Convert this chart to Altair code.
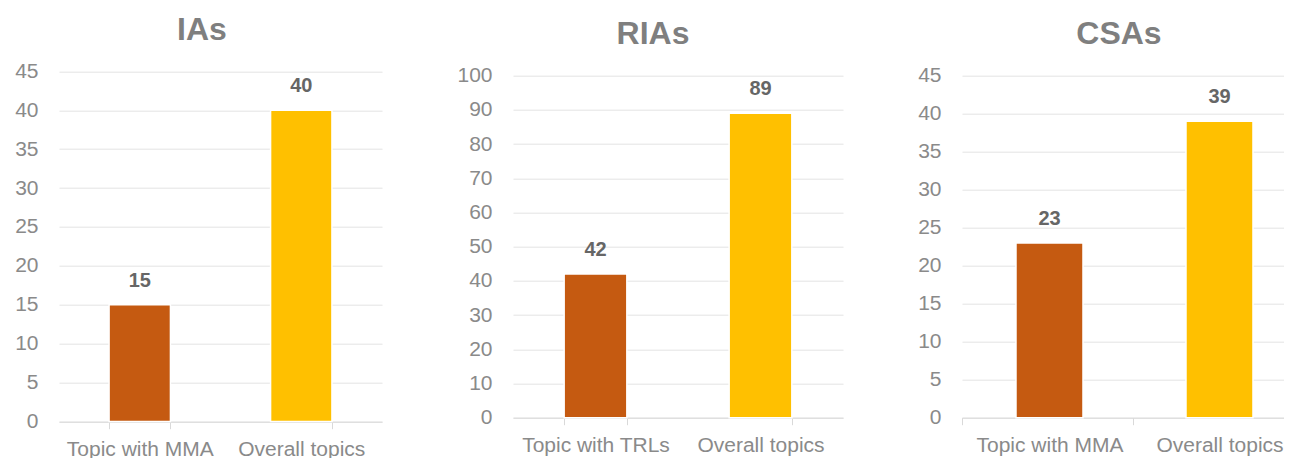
import altair as alt
import pandas as pd

FONT = "Liberation Sans"

ia_cats = ["Topic with MMA", "Overall topics"]
ia_vals = [15, 40]
ria_cats = ["Topic with TRLs", "Overall topics"]
ria_vals = [42, 89]
csa_cats = ["Topic with MMA", "Overall topics"]
csa_vals = [23, 39]

ia_ticks = list(range(0, 50, 5))
ria_ticks = list(range(0, 110, 10))
csa_ticks = list(range(0, 50, 5))

BAR_COLORS = ["#C55A11", "#FFC000"]
LABEL_GRAY = "#8a8a8a"


def panel(title, cats, vals, ticks, ymax, width, height, title_x, title_y,
          xscale, tick_kw, yrange=None):
    df = pd.DataFrame({"cat": cats, "val": vals})
    x = alt.X(
        "cat:N",
        sort=cats,
        scale=xscale,
        axis=alt.Axis(
            title=None,
            labelAngle=0,
            labelFont=FONT,
            labelFontSize=21,
            labelColor=LABEL_GRAY,
            labelPadding=10,
            domainColor="#d9d9d9",
            tickColor="#d9d9d9",
            tickSize=7,
            grid=False,
            **tick_kw,
        ),
    )
    yscale_kw = {"domain": [0, ymax], "nice": False}
    if yrange is not None:
        yscale_kw["range"] = yrange
    y = alt.Y(
        "val:Q",
        scale=alt.Scale(**yscale_kw),
        axis=alt.Axis(
            title=None,
            values=ticks,
            grid=True,
            gridColor="#e3e3e3",
            gridWidth=1,
            domain=False,
            ticks=False,
            labelFont=FONT,
            labelFontSize=21,
            labelColor=LABEL_GRAY,
            labelPadding=21,
        ),
    )
    base = alt.Chart(df)
    bars = base.mark_bar(stroke="white", strokeWidth=1.5).encode(
        x=x,
        y=y,
        color=alt.Color(
            "cat:N",
            sort=cats,
            scale=alt.Scale(domain=cats, range=BAR_COLORS),
            legend=None,
        ),
    )
    labels = base.mark_text(
        dy=-14,
        baseline="bottom",
        font=FONT,
        fontSize=20,
        fontWeight="bold",
        color="#666666",
    ).encode(x=x, y=y, text=alt.Text("val:Q"))
    spacer = base.mark_rule(strokeOpacity=0).encode(
        x=alt.value(0), x2=alt.value(width), y=alt.value(-79.3)
    )
    head = alt.Chart(pd.DataFrame({"t": [title]})).mark_text(
        font=FONT,
        fontSize=32,
        fontWeight="bold",
        color="#7f7f7f",
        baseline="alphabetic",
        align="center",
    ).encode(text="t:N", x=alt.value(title_x), y=alt.value(title_y))
    return alt.layer(spacer, bars, labels, head).properties(
        width=width, height=height
    )


std_scale = alt.Scale(paddingInner=0.62, paddingOuter=0.31)
p1 = panel("IAs", ia_cats, ia_vals, ia_ticks, 45, 323, 346, 143, -35.7,
           std_scale, {"tickBand": "extent"}, yrange=[345.7, -4.3])
p2 = panel("RIAs", ria_cats, ria_vals, ria_ticks, 100, 330, 342, 140, -31.7,
           std_scale, {"tickBand": "extent"})
p3 = panel("CSAs", csa_cats, csa_vals, csa_ticks, 45, 322, 342, 157, -31.7,
           alt.Scale(paddingInner=0.6059, paddingOuter=0.25, align=0.6353),
           {"tickOffset": -87, "labelOffset": 87})

chart = (
    alt.hconcat(p1, p2, p3, spacing=74)
    .properties(
        padding={"left": 6, "top": -12.3, "right": 0, "bottom": 0},
        background="white",
    )
    .configure_view(stroke="transparent", strokeWidth=0)
)

chart.save("out.html", embed_options={"renderer": "svg", "actions": False})
